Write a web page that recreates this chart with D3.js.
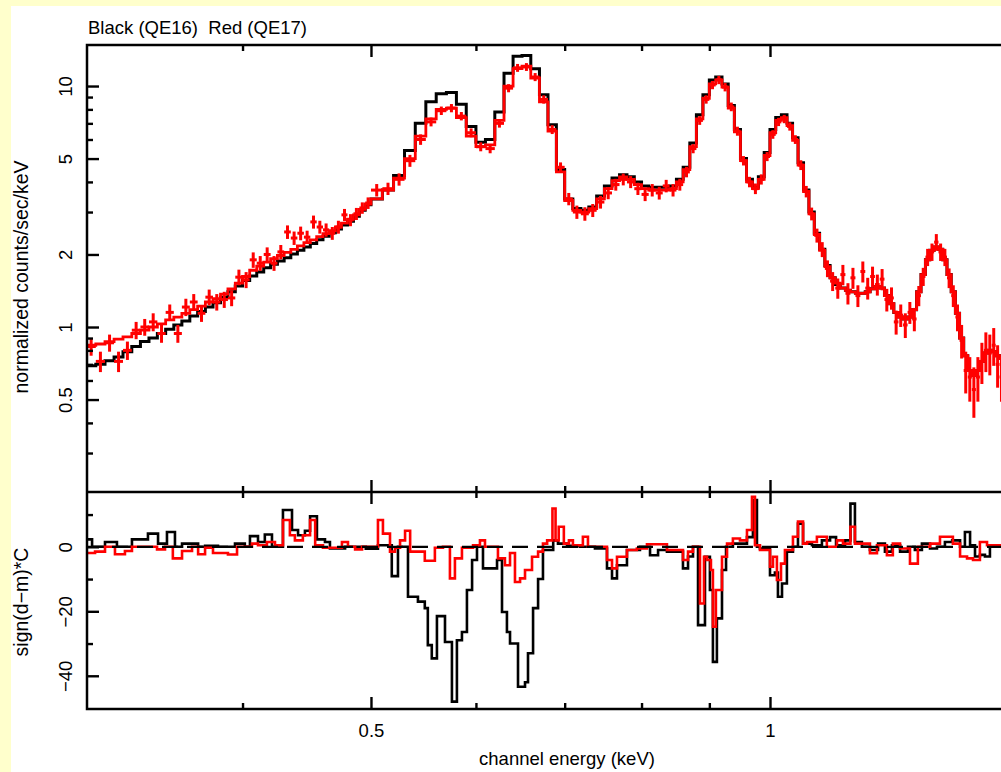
<!DOCTYPE html>
<html>
<head>
<meta charset="utf-8">
<script src="https://cdn.jsdelivr.net/npm/d3@7"></script>
<style>
  html, body { margin: 0; padding: 0; background: #FFFFCC; }
  svg { display: block; }
  text { font-family: "Liberation Sans", Arial, Helvetica, sans-serif; fill: #000; }
</style>
</head>
<body>
<svg id="chart" width="1001" height="772"></svg>
<script>
// ---- spectrum bins (keV, lower edges) ----
const binLo = [
  0.305,0.310,0.315,0.320,0.325,0.330,0.335,0.340,0.345,0.350,0.355,0.360,0.365,
  0.370,0.375,0.380,0.385,0.390,0.395,0.400,0.405,0.410,0.415,0.420,0.425,0.430,
  0.435,0.440,0.445,0.450,0.455,0.460,0.465,0.470,0.475,0.480,0.485,0.490,0.495,
  0.50,0.51,0.52,0.53,0.54,0.55,0.56,0.57,0.58,0.59,
  0.60,0.61,0.62,0.63,0.64,0.65,0.66,0.67,0.68,0.69,
  0.70,0.71,0.72,0.73,0.74,0.75,0.76,0.77,0.78,0.79,
  0.80,0.81,0.82,0.83,0.84,0.85,0.86,0.87,0.88,0.89,
  0.90,0.91,0.92,0.93,0.94,0.95,0.96,0.97,0.98,0.99,
  1.00,1.01,1.02,1.03,1.04,1.05,1.06,1.07,1.08,1.09,
  1.10,1.11,1.12,1.13,1.14,1.15,1.16,1.17,1.18,1.19,
  1.20,1.21,1.22,1.23,1.24,1.25,1.26,1.27,1.28,1.29,
  1.30,1.31,1.32,1.33,1.34,1.35,1.36,1.37,1.38,1.39,
  1.40,1.41,1.42,1.43,1.44,1.45,1.46,1.47,1.48,1.49
];
const binEnd = 1.50;

// QE16 (black), normalized counts/sec/keV
const qe16 = [
  0.69,0.70,0.725,0.75,0.79,0.83,0.87,0.90,0.94,0.98,1.02,1.06,1.11,
  1.16,1.21,1.26,1.33,1.40,1.48,1.56,1.63,1.69,1.76,1.82,1.88,1.94,
  2.01,2.08,2.15,2.22,2.30,2.38,2.46,2.55,2.65,2.75,2.88,3.05,3.22,
  3.40,3.70,4.25,5.4,7.0,8.6,9.3,9.4,8.4,6.8,
  5.85,6.0,7.8,11.3,13.3,13.4,11.8,9.2,6.9,4.5,
  3.4,3.1,3.05,3.15,3.5,3.85,4.15,4.28,4.2,4.0,
  3.85,3.8,3.8,3.8,3.85,4.1,4.6,5.8,7.6,9.2,
  10.6,10.9,10.2,8.3,6.6,5.0,4.1,3.8,4.2,5.3,
  6.6,7.4,7.6,7.0,6.1,4.8,3.7,3.0,2.45,2.1,
  1.8,1.6,1.5,1.45,1.42,1.40,1.38,1.38,1.40,1.44,
  1.47,1.45,1.35,1.25,1.15,1.10,1.08,1.10,1.18,1.40,
  1.65,1.90,2.08,2.15,2.10,1.90,1.65,1.40,1.14,0.90,
  0.76,0.66,0.63,0.66,0.72,0.78,0.80,0.79,0.76,0.74
];

// QE17 (red) folded model
const qe17Model = [
  0.84,0.85,0.87,0.89,0.91,0.94,0.97,1.00,1.03,1.07,1.10,1.14,1.18,
  1.22,1.27,1.31,1.37,1.44,1.52,1.62,1.72,1.79,1.86,1.92,1.98,2.04,
  2.10,2.17,2.24,2.30,2.37,2.44,2.51,2.60,2.70,2.80,2.92,3.08,3.24,
  3.40,3.70,4.15,5.0,6.2,7.3,8.0,8.1,7.4,6.2,
  5.6,5.7,7.2,10.0,11.8,12.1,10.8,8.6,6.5,4.4,
  3.35,3.05,3.0,3.1,3.4,3.75,4.05,4.2,4.1,3.9,
  3.75,3.7,3.7,3.7,3.75,4.0,4.5,5.6,7.3,8.9,
  10.2,10.6,9.9,8.1,6.45,4.9,4.0,3.75,4.1,5.15,
  6.4,7.2,7.4,6.85,5.95,4.7,3.65,2.95,2.42,2.08,
  1.78,1.6,1.52,1.45,1.42,1.40,1.38,1.38,1.40,1.44,
  1.47,1.45,1.35,1.25,1.15,1.10,1.08,1.10,1.18,1.40,
  1.65,1.90,2.08,2.15,2.10,1.90,1.65,1.40,1.14,0.90,
  0.76,0.66,0.63,0.66,0.72,0.78,0.80,0.79,0.76,0.74
];

// QE17 (red) data and 1-sigma errors
const qe17Data = [
  0.83,0.72,0.86,0.72,0.80,0.97,1.00,1.05,0.94,1.15,0.94,1.21,1.27,
  1.14,1.33,1.27,1.30,1.32,1.61,1.57,1.90,1.84,2.00,1.84,2.05,2.48,
  2.34,2.45,2.36,2.73,2.60,2.53,2.45,2.60,2.92,2.78,2.95,3.12,3.27,
  3.7,3.75,4.1,4.9,6.0,7.1,7.9,8.1,7.5,6.4,
  5.6,5.5,7.0,9.8,11.9,12.0,10.9,8.8,6.6,4.6,
  3.4,3.0,2.95,3.05,3.3,3.6,3.9,4.1,4.0,3.75,
  3.55,3.7,3.6,3.85,3.7,3.9,4.4,5.5,7.2,8.8,
  10.1,10.6,9.9,8.2,6.5,4.9,4.0,3.75,4.1,5.1,
  6.3,7.1,7.3,6.8,6.0,4.7,3.65,2.95,2.4,2.1,
  1.75,1.55,1.45,1.65,1.38,1.60,1.35,1.70,1.45,1.62,
  1.50,1.58,1.30,1.32,1.05,1.12,1.02,1.15,1.08,1.35,
  1.62,1.95,2.05,2.25,2.05,1.95,1.60,1.35,1.10,0.88,
  0.66,0.62,0.55,0.62,0.72,0.80,0.78,0.84,0.70,0.62
];
const qe17Err = [
  0.07,0.07,0.07,0.07,0.07,0.08,0.08,0.09,0.08,0.09,0.08,0.10,0.10,
  0.09,0.10,0.10,0.10,0.10,0.12,0.12,0.14,0.13,0.14,0.13,0.14,0.16,
  0.15,0.16,0.15,0.17,0.16,0.16,0.15,0.16,0.17,0.16,0.17,0.17,0.18,
  0.22,0.22,0.24,0.28,0.30,0.30,0.32,0.32,0.30,0.27,
  0.24,0.24,0.28,0.38,0.45,0.45,0.42,0.35,0.28,0.22,
  0.20,0.19,0.19,0.19,0.20,0.21,0.22,0.23,0.23,0.22,
  0.22,0.22,0.22,0.23,0.22,0.22,0.22,0.24,0.30,0.35,
  0.40,0.42,0.40,0.34,0.28,0.22,0.20,0.19,0.20,0.22,
  0.26,0.28,0.29,0.27,0.25,0.22,0.20,0.18,0.16,0.15,
  0.14,0.14,0.14,0.16,0.14,0.16,0.14,0.17,0.15,0.16,
  0.15,0.16,0.14,0.14,0.12,0.12,0.12,0.12,0.12,0.13,
  0.14,0.16,0.17,0.18,0.17,0.16,0.15,0.14,0.14,0.14,
  0.13,0.13,0.13,0.13,0.14,0.15,0.15,0.15,0.14,0.13
];

// residuals sign(d-m)*C, grouped channels: lower edge (keV) and value
const resBlackLo = [
  0.305,0.308,0.315,0.3216,0.3301,0.3394,0.3454,0.3508,0.3557,0.3601,0.3703,0.3748,
  0.3833,0.3948,0.4016,0.4052,0.4109,0.4158,0.4210,0.4291,0.4359,0.4405,0.4458,0.4498,
  0.4552,0.4616,0.4656,0.4780,0.4955,0.5061,0.5184,0.5240,0.5332,0.5425,0.5490,0.5519,
  0.5557,0.5607,0.5686,0.5755,0.5805,0.5856,0.5907,0.5960,0.6011,0.6074,0.6224,0.6278,
  0.6332,0.6366,0.6455,0.6534,0.6568,0.6626,0.6684,0.6741,0.6862,0.6919,0.7029,0.7188,
  0.7378,0.7534,0.7600,0.7666,0.7800,0.7978,0.8119,0.8233,0.8361,0.8597,0.8673,0.8748,
  0.8825,0.8932,0.9009,0.9056,0.9119,0.9200,0.9265,0.9376,0.9608,0.9708,0.9776,0.9827,
  1.0000,1.0086,1.0139,1.0211,1.0298,1.0407,1.0498,1.0591,1.0756,1.0944,1.1100,1.1216,
  1.1392,1.1500,1.1590,1.1731,1.1896,1.2065,1.2210,1.2360,1.2535,1.2709,1.2862,1.3020,
  1.3205,1.3365,1.3551,1.3723,1.3912,1.4030,1.4156,1.4278,1.4400,1.4527,1.4653,1.4783
];
const resBlack = [
  2.3,0,1.5,0,2.3,4.1,1,4.6,0,1,0,0.3,
  0,1,0,3.3,1.5,3.8,0,11.4,5.2,3.6,5,9.5,
  2.3,1.5,-0.5,0,-0.6,0.5,-9.1,0,-15.5,-17,-19,-30.5,
  -34.6,-21.5,-29.5,-48,-29,-26.4,-13.4,-4.1,0,-6.7,-4.1,-20.2,
  -26.4,-30,-43.4,-42,-33,-19,-10,-1,2,1,0.3,0,
  -0.5,-6.7,-9.8,-5.7,-1,0,-2.6,-1,-1.5,-6.7,-3,0,
  -24.3,-3.1,-13.4,-35.7,-22.2,-7.2,0,1,3,14.5,0,-0.5,
  -8.8,-8,-15.5,-11.4,-1.5,0,7.2,1,0.5,2,3,0.5,
  2,13.4,1.5,0,-1,1,-1.5,0.5,-1.5,0,-1,1,
  -0.5,0,1.5,2,0,4.6,0.5,-3,-2.5,-3,0.5,0.5
];
const resRedLo = [
  0.305,0.3096,0.315,0.3205,0.3261,0.3301,0.3448,0.3496,0.3544,0.3601,0.3664,0.3703,
  0.3748,0.3800,0.3900,0.3962,0.4016,0.4066,0.4109,0.4173,0.4232,0.4291,0.4343,0.4381,
  0.4442,0.4498,0.4538,0.4600,0.4754,0.4804,0.4864,0.4923,0.5061,0.5105,0.5168,0.5213,
  0.5259,0.5305,0.5352,0.5490,0.5587,0.5666,0.5735,0.5785,0.5856,0.5970,0.6042,0.6095,
  0.6234,0.6310,0.6366,0.6421,0.6478,0.6534,0.6614,0.6684,0.6741,0.6790,0.6853,0.6890,
  0.6928,0.6990,0.7052,0.7101,0.7225,0.7289,0.7534,0.7600,0.7666,0.7800,0.7935,0.8076,
  0.8361,0.8597,0.8673,0.8748,0.8855,0.8917,0.8963,0.9025,0.9056,0.9103,0.9200,0.9281,
  0.9376,0.9492,0.9608,0.9692,0.9742,0.9827,1.0000,1.0052,1.0121,1.0193,1.0263,1.0407,
  1.0498,1.0591,1.0665,1.0849,1.1038,1.1234,1.1352,1.1500,1.1590,1.1896,1.2042,1.2252,
  1.2379,1.2535,1.2753,1.2929,1.3205,1.3435,1.3740,1.3912,1.4082,1.4229,1.4400,1.4579
];
const resRed = [
  -1.9,-1.5,0,-2.3,-1.3,0,-0.8,0,-3.6,-1.3,0,-2.3,
  -0.3,-1.9,-2.4,0,0,1,0.5,1.5,0.5,8.3,3.6,2,
  3.6,8.3,0.5,-0.3,1.5,0,-0.8,0,8.3,4.1,-1.5,-0.3,
  2,5,-1.5,-4.3,-0.3,0,-9.8,-3.6,-0.3,0.5,2,0,
  -3.6,-5.7,-1.9,-10.9,-9.8,-7.2,-3.1,-1.5,1,2,11.9,2,
  6.2,1,2,0.5,3.1,0,-4.1,-6.7,-3.1,-1,-0.5,0.8,
  -1,-4.1,-1.5,0,-17.6,-3.1,-4.1,-7.2,-24.8,-13.4,-3.1,1,
  2.6,2,5.2,15.5,0.5,-1,-6.2,-3.1,-10.3,-5.2,-1,3.1,
  7.8,1,1.5,3.1,0,2,1,6.2,1,-2,0.5,-2.6,
  1,-0.5,-5.2,0,1,3.1,1,-3,-3.6,-4.1,1.5,0.5
];

// ---- axis ticks ----
const xMajor = [0.5, 1];
const xMinor = [0.4, 0.6, 0.7, 0.8, 0.9];
const yTopMajor = [0.5, 1, 2, 5, 10];
const yTopMinor = [0.3, 0.4, 0.6, 0.7, 0.8, 0.9, 3, 4, 6, 7, 8, 9];
const yResMajor = [-40, -20, 0];
const yResMinor = [-30, -10, 10];

const titleText = "Black (QE16)  Red (QE17)";
const xTitle = "channel energy (keV)";
const yTopTitle = "normalized counts/sec/keV";
const yResTitle = "sign(d\u2212m)*C";

// ---- layout ----
const W = 1001, H = 772;
const L = 87, R = 1003.4, T = 45, MID = 492, B = 709;
const FS = 18.5;

const svg = d3.select("#chart");
svg.append("rect").attr("width", W).attr("height", H).attr("fill", "#FFFFCC");
svg.append("rect").attr("x", 11).attr("y", 6).attr("width", W - 11).attr("height", H - 6).attr("fill", "#FFFFFF");

const x = d3.scaleLog().domain([0.3053, 1.5]).range([L, R]);
const yTop = d3.scaleLog().domain([0.2067, 14.8]).range([MID, T]);
const yRes = d3.scaleLinear().domain([-50.3, 17]).range([B, MID]);

const defs = svg.append("defs");
defs.append("clipPath").attr("id", "clipTop").append("rect")
  .attr("x", L).attr("y", T).attr("width", W - L).attr("height", MID - T);
defs.append("clipPath").attr("id", "clipRes").append("rect")
  .attr("x", L).attr("y", MID).attr("width", W - L).attr("height", B - MID);

// ---- upper panel ----
const stepPts = (lo, vals, end) => lo.map((e, i) => [e, vals[i]]).concat([[end, vals[vals.length - 1]]]);
const topLine = d3.line().x(d => x(d[0])).y(d => yTop(d[1])).curve(d3.curveStepAfter);
const gTop = svg.append("g").attr("clip-path", "url(#clipTop)");

gTop.append("path").datum(stepPts(binLo, qe16, binEnd))
  .attr("d", topLine).attr("fill", "none").attr("stroke", "#000").attr("stroke-width", 3);
gTop.append("path").datum(stepPts(binLo, qe17Model, binEnd))
  .attr("d", topLine).attr("fill", "none").attr("stroke", "#FF0000").attr("stroke-width", 2.8);

const binHi = binLo.slice(1).concat([binEnd]);
const pts = binLo.map((lo, i) => ({ lo, hi: binHi[i], v: qe17Data[i], e: qe17Err[i] }));
const cross = gTop.append("g").attr("stroke", "#FF0000").attr("stroke-width", 3);
cross.selectAll("line.h").data(pts).join("line").attr("class", "h")
  .attr("x1", d => x(d.lo)).attr("x2", d => x(d.hi))
  .attr("y1", d => yTop(d.v)).attr("y2", d => yTop(d.v));
cross.selectAll("line.v").data(pts).join("line").attr("class", "v")
  .attr("x1", d => x((d.lo + d.hi) / 2)).attr("x2", d => x((d.lo + d.hi) / 2))
  .attr("y1", d => yTop(d.v - d.e)).attr("y2", d => yTop(d.v + d.e));

// ---- residual panel ----
const resLine = d3.line().x(d => x(d[0])).y(d => yRes(d[1])).curve(d3.curveStepAfter);
const gRes = svg.append("g").attr("clip-path", "url(#clipRes)");
gRes.append("path").datum(stepPts(resBlackLo, resBlack, binEnd))
  .attr("d", resLine).attr("fill", "none").attr("stroke", "#000").attr("stroke-width", 2.6);
gRes.append("path").datum(stepPts(resRedLo, resRed, binEnd))
  .attr("d", resLine).attr("fill", "none").attr("stroke", "#FF0000").attr("stroke-width", 2.6);
gRes.append("line")
  .attr("x1", x(0.3053)).attr("x2", x(1.5)).attr("y1", yRes(0)).attr("y2", yRes(0))
  .attr("stroke", "#000").attr("stroke-width", 2.2).attr("stroke-dasharray", "16,9");

// ---- axes ----
function styleAxis(g) {
  g.select(".domain").remove();
  g.selectAll(".tick line").attr("stroke", "#000").attr("stroke-width", 2.4);
  g.selectAll("text").style("font-size", FS + "px")
    .style("font-family", "'Liberation Sans', Arial, Helvetica, sans-serif").attr("fill", "#000");
}
function rotLabels(g) {
  g.selectAll("text").attr("x", 0).attr("y", -15).attr("dy", null)
    .attr("transform", "rotate(-90)").style("text-anchor", "middle");
}
const fmt = d => String(d).replace("-", "\u2212");

// left axis, upper panel
svg.append("g").attr("transform", `translate(${L},0)`)
  .call(d3.axisLeft(yTop).tickValues(yTopMinor).tickSize(-6).tickFormat(""))
  .call(styleAxis);
svg.append("g").attr("transform", `translate(${L},0)`)
  .call(d3.axisLeft(yTop).tickValues(yTopMajor).tickSize(-12).tickFormat(fmt))
  .call(styleAxis).call(rotLabels);

// left axis, residual panel
svg.append("g").attr("transform", `translate(${L},0)`)
  .call(d3.axisLeft(yRes).tickValues(yResMinor).tickSize(-6).tickFormat(""))
  .call(styleAxis);
svg.append("g").attr("transform", `translate(${L},0)`)
  .call(d3.axisLeft(yRes).tickValues(yResMajor).tickSize(-12).tickFormat(fmt))
  .call(styleAxis).call(rotLabels);

// energy axes: top frame, shared divider (both sides), bottom
[[T, "top"], [MID, "bottom"], [MID, "top"], [B, "bottom"]].forEach(([yy, side]) => {
  const mk = side === "top" ? d3.axisTop : d3.axisBottom;
  svg.append("g").attr("transform", `translate(0,${yy})`)
    .call(mk(x).tickValues(xMinor).tickSize(-6).tickFormat("")).call(styleAxis);
  const gm = svg.append("g").attr("transform", `translate(0,${yy})`)
    .call(mk(x).tickValues(xMajor).tickSize(-12).tickFormat(d3.format("")))
    .call(styleAxis);
  if (yy === B) {
    gm.selectAll("text").attr("y", 28).attr("dy", null).style("text-anchor", "middle");
  } else {
    gm.selectAll("text").remove();
  }
});

// frame
svg.append("path")
  .attr("d", `M${W + 5},${T}H${L}V${B}H${W + 5}M${L},${MID}H${W + 5}`)
  .attr("fill", "none").attr("stroke", "#000").attr("stroke-width", 2.5);

// ---- titles ----
svg.append("text").attr("x", 88).attr("y", 34).style("font-size", FS + "px")
  .style("white-space", "pre").attr("xml:space", "preserve").text(titleText);
svg.append("text").attr("x", 567).attr("y", 765).style("font-size", FS + "px")
  .style("text-anchor", "middle").text(xTitle);
svg.append("text").attr("transform", "translate(28,277) rotate(-90)").style("font-size", "19.5px")
  .style("text-anchor", "middle").text(yTopTitle);
svg.append("text").attr("transform", "translate(28,602) rotate(-90)").style("font-size", "19.5px")
  .style("text-anchor", "middle").text(yResTitle);
</script>
</body>
</html>
